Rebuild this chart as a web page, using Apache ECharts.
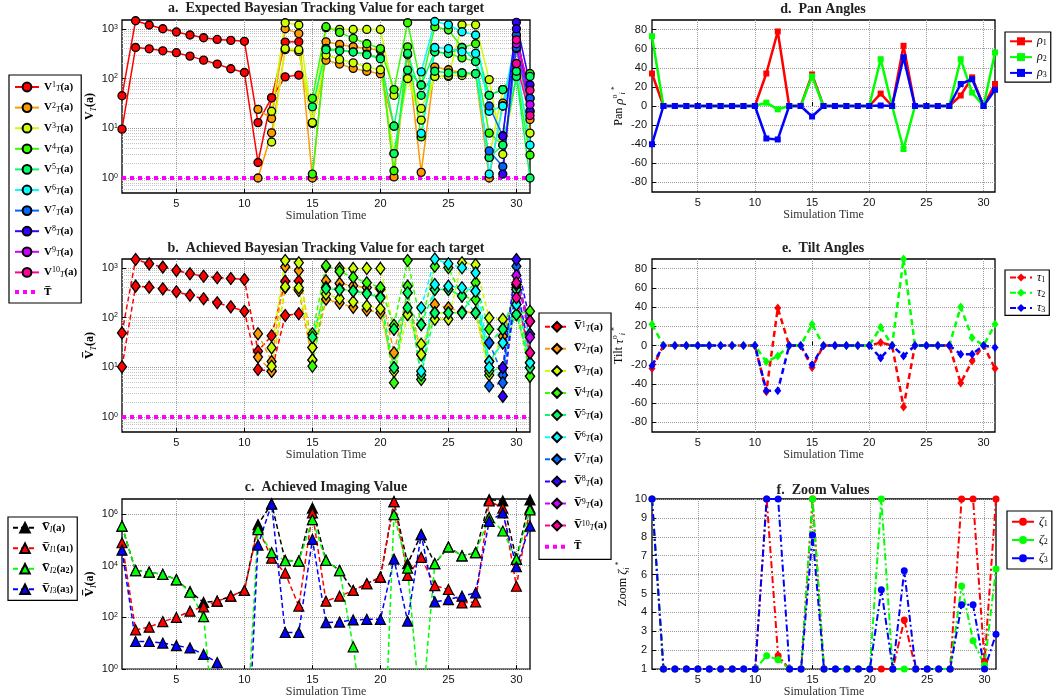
<!DOCTYPE html>
<html>
<head>
<meta charset="utf-8">
<script src="https://cdn.jsdelivr.net/npm/echarts@6/dist/echarts.min.js"></script>
<style>
  html, body { margin: 0; padding: 0; background: #fff; }
  #chart { width: 1055px; height: 699px; }
</style>
</head>
<body>
<div id="chart"></div>
<script>
const _ = null;

// Tiempo de simulación y marcas de los ejes
const times = [1,2,3,4,5,6,7,8,9,10,11,12,13,14,15,16,17,18,19,20,21,22,23,24,25,26,27,28,29,30,31];
const xTicks = [5, 10, 15, 20, 25, 30];
const trackTicks = [1, 10, 100, 1000];
const trackMinorTicks = [0.6,0.7,0.8,0.9,2,3,4,5,6,7,8,9,20,30,40,50,60,70,80,90,200,300,400,500,600,700,800,900];
const imagingTicks = [1, 100, 10000, 1000000];
const angleTicks = [-80, -60, -40, -20, 0, 20, 40, 60, 80];
const zoomTicks = [1, 2, 3, 4, 5, 6, 7, 8, 9, 10];

// a. Expected Bayesian tracking value (two curves per target)
const expT1a = [45,1450,1190,1000,860,750,660,610,585,560, 13,41,540,550,_,_,_,_,_,_, _,_,_,_,_,_,_,_,_,_, _];
const expT1b = [9.6,420,396,360,330,282,234,195,157,132, 2.05,41,108,117,_,_,_,_,_,_, _,_,_,_,_,_,_,_,_,_, _];
const expT2a = [_,_,_,_,_,_,_,_,_,_, 24,15.7,1000,800,1,547,485,434,400,370, 1.05,300,1.3,170,150,130,125,1,32,400, 15];
const expT2b = [_,_,_,_,_,_,_,_,_,_, 1,8.1,380,350,12.5,234,195,160,140,125, 11,_,_,_,_,_,_,_,_,_, _];
const expT3a = [_,_,_,_,_,_,_,_,_,_, _,22,1320,1190,13,1050,973,970,970,970, 46,100,25,110,110,1200,1200,95,3,110, 8];
const expT3b = [_,_,_,_,_,_,_,_,_,_, _,5.3,400,380,13,296,242,207,170,150, 3.1,100,14.6,110,115,115,125,2.6,60,140, 125];
const expT4a = [_,_,_,_,_,_,_,_,_,_, _,_,_,_,40,1100,845,640,500,400, 60,1320,74,1100,950,420,500,46,60,140, 125];
const expT4b = [_,_,_,_,_,_,_,_,_,_, _,_,_,_,1.2,403,373,344,310,260, 1.4,434,6.7,345,320,260,220,8,4.6,110, 2.9];
const expT5a = [_,_,_,_,_,_,_,_,_,_, _,_,_,_,27,380,360,340,300,250, 11,319,46,140,130,130,125,2.6,4.6,110, 1];
const expT5b = [_,_,_,_,_,_,_,_,_,_, _,_,_,_,_,_,_,_,_,_, 3.1,148,74,345,320,420,220,46,60,140, 110];
const expT6a = [_,_,_,_,_,_,_,_,_,_, _,_,_,_,_,_,_,_,_,_, _,_,136,1400,1200,870,750,22,28,750, 40];
const expT6b = [_,_,_,_,_,_,_,_,_,_, _,_,_,_,_,_,_,_,_,_, _,_,7.9,420,400,345,320,1.2,28,200, 4.6];
const expT7a = [_,_,_,_,_,_,_,_,_,_, _,_,_,_,_,_,_,_,_,_, _,_,_,_,_,_,_,28,7,750, 40];
const expT7b = [_,_,_,_,_,_,_,_,_,_, _,_,_,_,_,_,_,_,_,_, _,_,_,_,_,_,_,3.5,1.7,420, 22];
const expT8a = [_,_,_,_,_,_,_,_,_,_, _,_,_,_,_,_,_,_,_,_, _,_,_,_,_,_,_,_,7,1350, 75];
const expT8b = [_,_,_,_,_,_,_,_,_,_, _,_,_,_,_,_,_,_,_,_, _,_,_,_,_,_,_,_,1.2,1000, 22];
const expT9a = [_,_,_,_,_,_,_,_,_,_, _,_,_,_,_,_,_,_,_,_, _,_,_,_,_,_,_,_,_,500, 30];
const expT10a = [_,_,_,_,_,_,_,_,_,_, _,_,_,_,_,_,_,_,_,_, _,_,_,_,_,_,_,_,_,600, 58];
const expT10b = [_,_,_,_,_,_,_,_,_,_, _,_,_,_,_,_,_,_,_,_, _,_,_,_,_,_,_,_,_,200, 18];

// b. Achieved Bayesian tracking value
const achT1a = [49,1470,1200,1030,883,758,677,630,610,582, 21,43,538,540,_,_,_,_,_,_, _,_,_,_,_,_,_,_,_,_, _];
const achT1b = [10.2,427,407,377,329,281,238,198,164,134, 9,8.3,110,119,_,_,_,_,_,_, _,_,_,_,_,_,_,_,_,_, _];
const achT2a = [_,_,_,_,_,_,_,_,_,_, 47,13,1050,883,25,547,485,434,400,370, 19.5,314,18,183,157,130,125,9.9,42,400, 12.3];
const achT2b = [_,_,_,_,_,_,_,_,_,_, 16,8.3,400,350,14,234,195,160,140,125, 9.8,_,_,_,_,_,_,_,_,_, _];
const achT3a = [_,_,_,_,_,_,_,_,_,_, _,24.6,1400,1260,14,1050,973,970,970,970, 58,115,29,92,92,1260,1150,98,92,115, 9.8];
const achT3b = [_,_,_,_,_,_,_,_,_,_, _,10.5,414,396,25,296,242,207,170,150, 8.3,115,18,124,124,124,124,7,58,365, 6.6];
const achT4a = [_,_,_,_,_,_,_,_,_,_, _,_,_,_,47,1100,845,640,500,400, 70,1400,72,1070,1000,270,500,58,58,115, 134];
const achT4b = [_,_,_,_,_,_,_,_,_,_, _,_,_,_,10.5,403,373,344,310,260, 4.9,427,5.7,365,365,270,230,8.3,9.8,183, 6.6];
const achT5a = [_,_,_,_,_,_,_,_,_,_, _,_,_,_,40,380,360,340,300,250, 9.8,314,7,124,124,124,338,13,31,115, 12.3];
const achT5b = [_,_,_,_,_,_,_,_,_,_, _,_,_,_,_,_,_,_,_,_, 58,157,72,365,365,270,124,31,58,365, 9.8];
const achT6a = [_,_,_,_,_,_,_,_,_,_, _,_,_,_,_,_,_,_,_,_, _,_,157,1500,1200,1000,790,13,31,183, 46];
const achT6b = [_,_,_,_,_,_,_,_,_,_, _,_,_,_,_,_,_,_,_,_, _,_,8.3,460,427,396,338,9.9,7,460, 12.3];
const achT7a = [_,_,_,_,_,_,_,_,_,_, _,_,_,_,_,_,_,_,_,_, _,_,_,_,_,_,_,31,7,1070, 46];
const achT7b = [_,_,_,_,_,_,_,_,_,_, _,_,_,_,_,_,_,_,_,_, _,_,_,_,_,_,_,4.2,4.9,460, 84];
const achT8a = [_,_,_,_,_,_,_,_,_,_, _,_,_,_,_,_,_,_,_,_, _,_,_,_,_,_,_,_,9.8,1470, 84];
const achT8b = [_,_,_,_,_,_,_,_,_,_, _,_,_,_,_,_,_,_,_,_, _,_,_,_,_,_,_,_,2.6,460, 19.5];
const achT9a = [_,_,_,_,_,_,_,_,_,_, _,_,_,_,_,_,_,_,_,_, _,_,_,_,_,_,_,_,_,700, 40];
const achT10a = [_,_,_,_,_,_,_,_,_,_, _,_,_,_,_,_,_,_,_,_, _,_,_,_,_,_,_,_,_,500, 84];
const achT10b = [_,_,_,_,_,_,_,_,_,_, _,_,_,_,_,_,_,_,_,_, _,_,_,_,_,_,_,_,_,250, 19.5];

// Umbral T
const threshold = [1,1,1,1,1,1,1,1,1,1, 1,1,1,1,1,1,1,1,1,1, 1,1,1,1,1,1,1,1,1,1, 1];

// c. Achieved imaging value
const imgTotal = [3.4e5,6500,5600,4600,2900,1000,380,423,660,1100, 3.9e5,2.5e6,1.6e4,1.5e4,1.7e6,1.6e4,6500,1100,2000,3600, 3e6,1.2e4,1.6e5,1.2e4,5.3e4,2.4e4,3.2e4,3.6e6,3.2e6,1.8e4, 3.5e6];
const imgA1 = [7.7e4,33,42,69,100,174,256,423,660,1100, 2.9e5,1.95e4,5200,274,1.1e6,423,660,1100,2000,3600, 3e6,4200,2.1e4,1700,1200,364,400,3.2e6,1.7e6,1600, 1.7e6];
const imgA2 = [3.4e5,6500,5600,4600,2850,940,107,3e-4,1e-4,1e-4, 2.5e5,3.2e4,1.55e4,1.5e4,6e5,1.6e4,6500,7.3,1e-3,1e-7, 9.4e5,8100,0.01,1.2e4,5.3e4,2.4e4,3.2e4,7.4e5,2.2e5,1.8e4, 1.45e6];
const imgA3 = [4e4,11.7,11.7,10.2,8.1,6.6,3.7,1.8,1e-6,1e-6, 6.3e4,2.4e6,26,26,1.05e5,63,66,80,84,84, 1.8e4,72,1.6e5,400,490,660,890,5.2e5,1.1e6,9100, 3.4e5];

// d. Pan angles
const pan1 = [34,0,0,0,0,0,0,0,0,0, 34,78,0,0,33,0,0,0,0,0, 13,0,63,0,0,0,0,11,30,0, 23];
const pan2 = [73,0,0,0,0,0,0,0,0,0, 3.5,-3.5,0,0,31,0,0,0,0,0, 49,0,-45,0,0,0,0,49,14,0, 56];
const pan3 = [-40,0,0,0,0,0,0,0,0,0, -34,-35,0,0,-11,0,0,0,0,0, 0.5,0,51,0,0,0,0,23,28,0, 17];

// e. Tilt angles
const tilt1 = [-24,0,0,0,0,0,0,0,0,0, -48,39,0,0,-23,0,0,0,0,0, 3,0,-64,0,0,0,0,-39,-16,0, -24];
const tilt2 = [22,0,0,0,0,0,0,0,0,0, -17,-11,0,0,22,0,0,0,0,0, 19,0,90,0,0,0,0,40,8,0, 22];
const tilt3 = [-21,0,0,0,0,0,0,0,0,0, -47,-47,0,0,-20,0,0,0,0,0, -13,0,-11,0,0,0,0,-9,-9,0, -2];

// f. Zoom values
const zoom1 = [10,1,1,1,1,1,1,1,1,1, 10,1.7,1,1,10,1,1,1,1,1, 1,1,3.6,1,1,1,1,10,10,1.4, 10];
const zoom2 = [10,1,1,1,1,1,1,1,1,1, 1.7,1.5,1,1,10,1,1,1,1,1, 10,1,1,1,1,1,1,5.4,2.5,1.2, 6.3];
const zoom3 = [10,1,1,1,1,1,1,1,1,1, 10,10,1,1,8.1,1,1,1,1,1, 5.2,1,6.2,1,1,1,1,4.4,4.4,1, 2.85];

const trackColors = ["#FF0000", "#FF9900", "#CCFF00", "#33FF00", "#00FF66", "#00FFFF", "#0066FF", "#3300FF", "#CC00FF", "#FF0099"];
const expected = [[expT1a, expT1b], [expT2a, expT2b], [expT3a, expT3b], [expT4a, expT4b], [expT5a, expT5b],
  [expT6a, expT6b], [expT7a, expT7b], [expT8a, expT8b], [expT9a], [expT10a, expT10b]];
const achieved = [[achT1a, achT1b], [achT2a, achT2b], [achT3a, achT3b], [achT4a, achT4b], [achT5a, achT5b],
  [achT6a, achT6b], [achT7a, achT7b], [achT8a, achT8b], [achT9a], [achT10a, achT10b]];

const serif = '"Liberation Serif", "DejaVu Serif", serif';
const sans = '"Liberation Sans", Arial, sans-serif';
const ov = '"DejaVu Serif", serif';

// estilos de texto matemático (nombres de ejes y leyendas)
function mathRich(size, lh) {
  return {
    b: { fontFamily: serif, fontWeight: "bold", fontSize: size, lineHeight: lh, color: "#000" },
    ob: { fontFamily: ov, fontWeight: "bold", fontSize: size - 1, lineHeight: lh, color: "#000" },
    r: { fontFamily: serif, fontSize: size, lineHeight: lh, color: "#000" },
    i: { fontFamily: serif, fontStyle: "italic", fontSize: size + 1, lineHeight: lh, color: "#000" },
    sup: { fontFamily: serif, fontSize: 8, lineHeight: 8, verticalAlign: "top", color: "#000" },
    sub: { fontFamily: serif, fontStyle: "italic", fontSize: 8, lineHeight: 8, verticalAlign: "bottom", color: "#000" },
    subr: { fontFamily: serif, fontSize: 8, lineHeight: 8, verticalAlign: "bottom", color: "#000" },
    subb: { fontFamily: serif, fontWeight: "bold", fontSize: 8, lineHeight: 8, verticalAlign: "bottom", color: "#000" },
  };
}
const nameRich = mathRich(12, 16);
const legendRich = mathRich(11, 12);

const labels = {
  aT: "{ob|T\u0305}", bT: "{ob|T\u0305}",
  cI: "{ob|V\u0305}{sub|I}{b|(a)}",
  c1: "{ob|V\u0305}{sub|I}{subr|1}{b|(a}{subb|1}{b|)}",
  c2: "{ob|V\u0305}{sub|I}{subr|2}{b|(a}{subb|2}{b|)}",
  c3: "{ob|V\u0305}{sub|I}{subr|3}{b|(a}{subb|3}{b|)}",
  rho1: "{i|ρ}{subr|1}", rho2: "{i|ρ}{subr|2}", rho3: "{i|ρ}{subr|3}",
  tau1: "{i|τ}{subr|1}", tau2: "{i|τ}{subr|2}", tau3: "{i|τ}{subr|3}",
  zeta1: "{i|ζ}{subr|1}", zeta2: "{i|ζ}{subr|2}", zeta3: "{i|ζ}{subr|3}",
};
trackColors.forEach((c, k) => {
  labels["a" + (k + 1)] = "{b|V}{sup|" + (k + 1) + "}{sub|T}{b|(a)}";
  labels["b" + (k + 1)] = "{ob|V\u0305}{sup|" + (k + 1) + "}{sub|T}{b|(a)}";
});

const pairs = (vals) => times.map((t, i) => [t, vals[i]]);

const series = [];

// a y b: umbral primero
[0, 1].forEach((g) => {
  series.push({
    name: g === 0 ? "aT" : "bT", type: "line", xAxisIndex: g, yAxisIndex: g,
    data: pairs(threshold), symbol: "none",
    lineStyle: { color: "#FF00FF", width: 4, type: [4, 4] },
    itemStyle: { color: "#FF00FF" }, z: 2,
  });
});

expected.forEach((lines, k) => {
  lines.forEach((vals) => {
    series.push({
      name: "a" + (k + 1), type: "line", xAxisIndex: 0, yAxisIndex: 0,
      data: pairs(vals), symbol: "circle", symbolSize: 8,
      lineStyle: { color: trackColors[k], width: 1.5 },
      itemStyle: { color: trackColors[k], borderColor: "#000", borderWidth: 1.3 }, z: 3,
    });
  });
});

achieved.forEach((lines, k) => {
  lines.forEach((vals) => {
    series.push({
      name: "b" + (k + 1), type: "line", xAxisIndex: 1, yAxisIndex: 1,
      data: pairs(vals), symbol: "diamond", symbolSize: [9, 12],
      lineStyle: { color: trackColors[k], width: 1.5, type: [5, 3] },
      itemStyle: { color: trackColors[k], borderColor: "#000", borderWidth: 1.3 }, z: 3,
    });
  });
});

[["cI", imgTotal, "#000000"], ["c1", imgA1, "#FF0000"], ["c2", imgA2, "#00FF00"], ["c3", imgA3, "#0000FF"]].forEach(([name, vals, color]) => {
  series.push({
    name, type: "line", xAxisIndex: 2, yAxisIndex: 2,
    data: pairs(vals), symbol: "triangle", symbolSize: 10,
    lineStyle: { color, width: 1.5, type: [5, 3] },
    itemStyle: { color, borderColor: "#000", borderWidth: 1.2 }, z: 3,
  });
});

const angleColors = ["#FF0000", "#00FF00", "#0000FF"];
[pan1, pan2, pan3].forEach((vals, k) => {
  series.push({
    name: "rho" + (k + 1), type: "line", xAxisIndex: 3, yAxisIndex: 3,
    data: pairs(vals), symbol: "rect", symbolSize: 6,
    lineStyle: { color: angleColors[k], width: 2.5 },
    itemStyle: { color: angleColors[k] }, z: 3,
  });
});
[tilt1, tilt2, tilt3].forEach((vals, k) => {
  series.push({
    name: "tau" + (k + 1), type: "line", xAxisIndex: 4, yAxisIndex: 4,
    data: pairs(vals), symbol: "diamond", symbolSize: [7, 9],
    lineStyle: { color: angleColors[k], width: 2.5, type: [6, 4] },
    itemStyle: { color: angleColors[k] }, z: 3,
  });
});
[zoom1, zoom2, zoom3].forEach((vals, k) => {
  series.push({
    name: "zeta" + (k + 1), type: "line", xAxisIndex: 5, yAxisIndex: 5,
    data: pairs(vals), symbol: "circle", symbolSize: 7,
    lineStyle: { color: angleColors[k], width: 2, type: [7, 3, 2, 3] },
    itemStyle: { color: angleColors[k] }, z: 3,
  });
});

const grids = [
  { left: 122, top: 20, width: 408, height: 173 },
  { left: 122, top: 259, width: 408, height: 173 },
  { left: 122, top: 499, width: 408, height: 172 },
  { left: 652, top: 20, width: 343, height: 172 },
  { left: 652, top: 259, width: 343, height: 173 },
  { left: 652, top: 499, width: 344, height: 172 },
].map((g) => Object.assign({ show: true, borderColor: "#000", borderWidth: 1.3, backgroundColor: "#fff" }, g));

const gridLine = { show: true, lineStyle: { type: "dotted", color: "#9a9a9a", width: 1 } };
const tickStyle = { inside: true, length: 4, lineStyle: { color: "#000" } };
const tickFont = { fontFamily: sans, fontSize: 11, color: "#111" };

const xAxes = grids.map((g, i) => ({
  type: "value", gridIndex: i, min: 1, max: 31,
  name: "Simulation Time", nameLocation: "middle", nameGap: 14,
  nameTextStyle: { fontFamily: serif, fontSize: 12, color: "#333" },
  axisLine: { show: false },
  axisTick: Object.assign({ customValues: xTicks }, tickStyle),
  axisLabel: Object.assign({ customValues: xTicks, margin: 5 }, tickFont),
  splitLine: gridLine,
}));

const powLabel = (v) => "10{sup|" + Math.round(Math.log10(v)) + "}";
function logAxis(i, min, max, ticks, name, gap) {
  return {
    type: "log", logBase: 10, gridIndex: i, min, max,
    name, nameLocation: "middle", nameRotate: 90, nameGap: gap,
    nameTextStyle: { rich: nameRich },
    axisLine: { show: false },
    axisTick: Object.assign({ customValues: ticks }, tickStyle),
    axisLabel: Object.assign({ customValues: ticks, formatter: powLabel, margin: 4,
      rich: { sup: { fontFamily: sans, fontSize: 7, lineHeight: 7, verticalAlign: "top", color: "#111" } } }, tickFont),
    splitLine: gridLine,
  };
}
function linAxis(i, min, max, ticks, name, gap) {
  return {
    type: "value", gridIndex: i, min, max,
    name, nameLocation: "middle", nameRotate: 90, nameGap: gap,
    nameTextStyle: { rich: nameRich },
    axisLine: { show: false },
    axisTick: Object.assign({ customValues: ticks }, tickStyle),
    axisLabel: Object.assign({ customValues: ticks, margin: 5 }, tickFont),
    splitLine: gridLine,
  };
}
function minorAxis(i, min, max) {
  return {
    type: "log", logBase: 10, gridIndex: i, min, max, position: "left",
    axisLine: { show: false }, axisLabel: { show: false },
    axisTick: { show: false, customValues: trackMinorTicks },
    splitLine: { show: true, lineStyle: { type: "dotted", color: "#c4c4c4", width: 1 } },
  };
}

const yAxes = [
  logAxis(0, 0.5, 1500, trackTicks, "{b|V}{sub|T}{b|(a)}", 22),
  logAxis(1, 0.5, 1500, trackTicks, "{ob|V\u0305}{sub|T}{b|(a)}", 22),
  logAxis(2, 1, 3.8e6, imagingTicks, "{ob|V\u0305}{sub|I}{b|(a)}", 15),
  linAxis(3, -90, 90, angleTicks, "{r|Pan }{i|ρ}{sup|o}{sub|i}{sup| *}", 19),
  linAxis(4, -90, 90, angleTicks, "{r|Tilt }{i|τ}{sup|o}{sub|i}{sup| *}", 17),
  linAxis(5, 1, 10, zoomTicks, "{r|Zoom }{i|ζ}{sub|i}{sup| *}", 12),
  minorAxis(0, 0.5, 1500),
  minorAxis(1, 0.5, 1500),
];

const titleStyle = { fontFamily: serif, fontWeight: "bold", fontSize: 14, color: "#222" };
const titles = [
  ["a.  Expected Bayesian Tracking Value for each target", 326, 1],
  ["b.  Achieved Bayesian Tracking Value for each target", 326, 241],
  ["c.  Achieved Imaging Value", 326, 480],
  ["d.  Pan Angles", 823, 2],
  ["e.  Tilt Angles", 823, 241],
  ["f.  Zoom Values", 823, 483],
].map(([text, x, y]) => ({ text, left: x, top: y, textAlign: "center", padding: 0, textStyle: titleStyle }));

const legendBase = {
  orient: "vertical", selectedMode: false, backgroundColor: "#fff",
  borderColor: "#000", borderWidth: 1.2, borderRadius: 0,
  formatter: (name) => labels[name],
  textStyle: { rich: legendRich },
};
const thresholdItem = (name) => ({ name, itemStyle: { opacity: 0 }, lineStyle: { width: 4 } });
const legends = [
  Object.assign({}, legendBase, { left: 9, top: 75, itemWidth: 24, itemHeight: 11, itemGap: 8.6, padding: [6, 4],
    data: ["a1","a2","a3","a4","a5","a6","a7","a8","a9","a10", thresholdItem("aT")] }),
  Object.assign({}, legendBase, { left: 539, top: 313, itemWidth: 24, itemHeight: 12, itemGap: 10.1, padding: [7.7, 4],
    data: ["b1","b2","b3","b4","b5","b6","b7","b8","b9","b10", thresholdItem("bT")] }),
  Object.assign({}, legendBase, { left: 8, top: 517, itemWidth: 24, itemHeight: 12, itemGap: 8.7, padding: [5, 4],
    data: ["cI", "c1", "c2", "c3"] }),
  Object.assign({}, legendBase, { left: 1005, top: 32, itemWidth: 22, itemHeight: 10, itemGap: 3.8, padding: [3.3, 4],
    data: ["rho1", "rho2", "rho3"] }),
  Object.assign({}, legendBase, { left: 1005, top: 270, itemWidth: 22, itemHeight: 10, itemGap: 3.2, padding: [1.5, 4],
    data: ["tau1", "tau2", "tau3"] }),
  Object.assign({}, legendBase, { left: 1007, top: 511, itemWidth: 22, itemHeight: 10, itemGap: 6.3, padding: [4.7, 4],
    data: ["zeta1", "zeta2", "zeta3"] }),
];

const chart = echarts.init(document.getElementById("chart"));
chart.setOption({
  animation: false,
  backgroundColor: "#fff",
  title: titles,
  legend: legends,
  grid: grids,
  xAxis: xAxes,
  yAxis: yAxes,
  series: series,
});
</script>
</body>
</html>
